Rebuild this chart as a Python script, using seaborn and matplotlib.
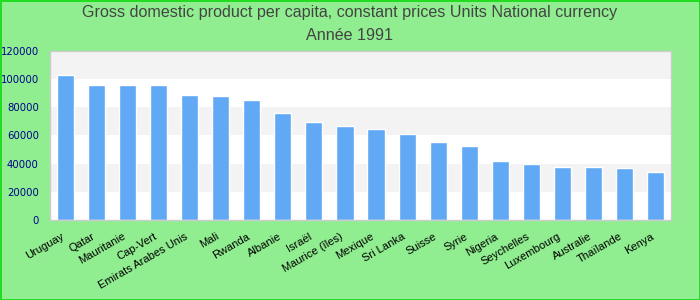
import matplotlib
matplotlib.use("Agg")
import matplotlib.pyplot as plt
import seaborn as sns
import pandas as pd

# Données
pays = ['Uruguay', 'Qatar', 'Mauritanie', 'Cap-Vert', 'Emirats Arabes Unis', 'Mali',
        'Rwanda', 'Albanie', 'Israël', 'Maurice (îles)', 'Mexique', 'Sri Lanka',
        'Suisse', 'Syrie', 'Nigeria', 'Seychelles', 'Luxembourg', 'Australie',
        'Thaïlande', 'Kenya']
valeurs = [103000, 95900, 95900, 95900, 88800, 88000, 85200, 76000, 69600, 66700,
           64600, 61000, 55400, 52500, 41900, 39800, 37600, 37600, 36900, 34100]
yticks = [0, 20000, 40000, 60000, 80000, 100000, 120000]

df = pd.DataFrame({'pays': pays, 'valeur': valeurs})

sns.set_style("white")
plt.rcParams['font.family'] = ['Liberation Sans', 'DejaVu Sans']

fig = plt.figure(figsize=(7, 3), dpi=100)
fig.patch.set_facecolor('#90ee90')
fig.patch.set_edgecolor('#22dd22')
fig.patch.set_linewidth(2)
ax = fig.add_axes([50 / 700, 80 / 300, 621 / 700, 169 / 300])

# Bandes alternées
for i in range(len(yticks) - 1):
    c = '#f3f3f3' if i % 2 == 1 else 'white'
    ax.axhspan(yticks[i], yticks[i + 1], color=c, zorder=0, lw=0)

sns.barplot(data=df, x='pays', y='valeur', color='#61a9f5', width=0.55,
            saturation=1, ax=ax, zorder=2)

ax.set_ylim(0, 120000)
ax.set_xlim(-0.5, len(pays) - 0.5)
ax.set_yticks(yticks)
ax.set_yticklabels([str(v) for v in yticks], family='DejaVu Sans', fontsize=7.3,
                   color='#00008b')
ax.set_xticks(range(len(pays)))
ax.set_xticklabels(pays, rotation=30, ha='right', fontsize=8, color='black')
ax.tick_params(axis='both', length=0)
ax.tick_params(axis='y', pad=8)
ax.tick_params(axis='x', pad=8)
ax.set_xlabel('')
ax.set_ylabel('')
for s in ax.spines.values():
    s.set_color('#cccccc')
    s.set_linewidth(1)

fig.text(0.5, 1 - 13 / 300, 'Gross domestic product per capita, constant prices Units National currency',
         ha='center', va='center', fontsize=11.6, color='#444444')
fig.text(0.5, 1 - 35 / 300, 'Année 1991', ha='center', va='center', fontsize=11.6,
         color='#444444')

fig.savefig('out.png', dpi=100, facecolor=fig.get_facecolor(), edgecolor=fig.get_edgecolor())
